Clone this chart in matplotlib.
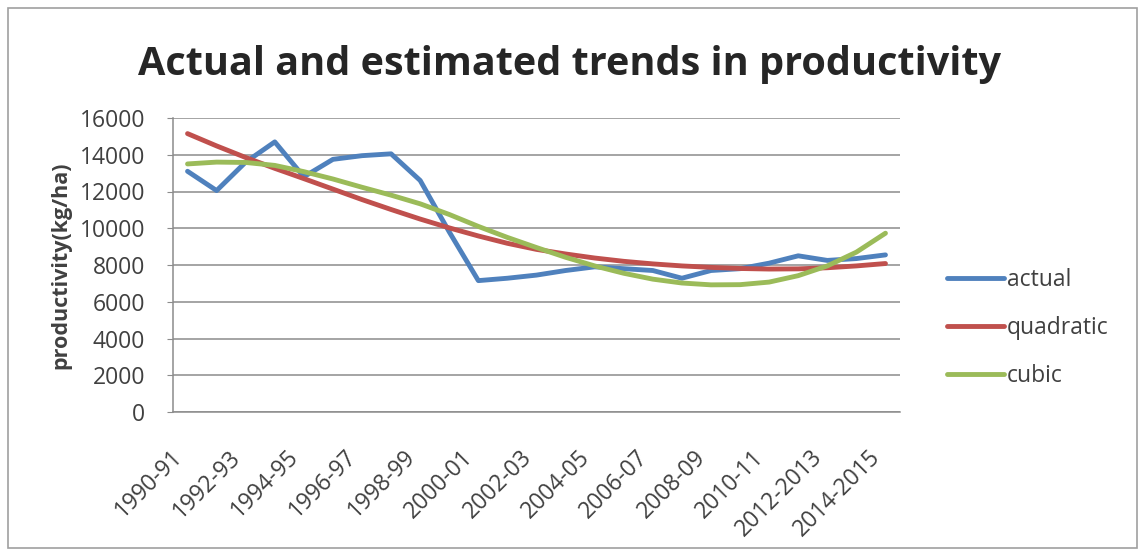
import matplotlib.pyplot as plt
from matplotlib.patches import Rectangle

# Productivity series (kg/ha), one value per crop year
years = [
    "1990-91", "1991-92", "1992-93", "1993-94", "1994-95", "1995-96",
    "1996-97", "1997-98", "1998-99", "1999-00", "2000-01", "2001-02",
    "2002-03", "2003-04", "2004-05", "2005-06", "2006-07", "2007-08",
    "2008-09", "2009-10", "2010-11", "2011-12", "2012-2013", "2013-2014",
    "2014-2015",
]
actual = [
    13100, 12050, 13600, 14700, 12800, 13750, 13950, 14050, 12600, 9800,
    7150, 7280, 7450, 7700, 7900, 7800, 7700, 7280, 7700, 7800,
    8100, 8500, 8250, 8350, 8550,
]
quadratic = [
    15150, 14480, 13850, 13260, 12700, 12130, 11560, 11020, 10500, 10020,
    9580, 9180, 8850, 8600, 8380, 8200, 8060, 7950, 7870, 7810,
    7780, 7790, 7850, 7950, 8080,
]
cubic = [
    13500, 13600, 13580, 13420, 13080, 12680, 12230, 11800, 11330, 10750,
    10100, 9500, 8950, 8420, 7950, 7550, 7230, 7020, 6920, 6930,
    7070, 7420, 7950, 8700, 9730,
]

FONT = "Open Sans"
TXT = "#404040"
GRID = "#8c8c8c"

fig = plt.figure(figsize=(11.42, 5.55), dpi=100)
ax = fig.add_axes([173 / 1142, 1 - 412 / 555, 727 / 1142, 294 / 555])

x = list(range(len(years)))
ax.plot(x, actual, color="#4F81BD", lw=3.5, label="actual", solid_capstyle="round")
ax.plot(x, quadratic, color="#C0504D", lw=3.5, label="quadratic", solid_capstyle="round")
ax.plot(x, cubic, color="#9BBB59", lw=3.5, label="cubic", solid_capstyle="round")

ax.set_xlim(-0.5, len(years) - 0.5)
ax.set_ylim(0, 16000)
ax.set_yticks(range(0, 16001, 2000))
ax.yaxis.grid(True, color=GRID, lw=1.1)
ax.set_axisbelow(True)

ax.set_xticks(x[::2])
ax.set_xticklabels(years[::2], rotation=45, ha="right", va="top",
                   fontsize=16.5, family=FONT, color=TXT)
ax.tick_params(axis="x", length=0, pad=24)
ax.tick_params(axis="y", length=4, color=GRID, pad=16, labelsize=16.5, labelcolor=TXT)
for lab in ax.get_yticklabels():
    lab.set_family(FONT)

for side in ("top", "right"):
    ax.spines[side].set_visible(False)
for side in ("left", "bottom"):
    ax.spines[side].set_color(GRID)
    ax.spines[side].set_linewidth(1.1)

ax.set_ylabel("productivity(kg/ha)", fontsize=15.5, fontweight="bold",
              family=FONT, color=TXT, labelpad=6)

fig.text(570 / 1142, 1 - 75 / 555, "Actual and estimated trends in productivity",
         ha="center", va="baseline", fontsize=28.5, fontweight="bold",
         family=FONT, color="#262626")

leg = ax.legend(loc="center left", bbox_to_anchor=(938 / 1142, 1 - 328 / 555),
                bbox_transform=fig.transFigure, frameon=False,
                prop={"family": FONT, "size": 16.5}, handlelength=2.5,
                handletextpad=0.1, labelspacing=1.05, borderaxespad=0)
for t in leg.get_texts():
    t.set_color(TXT)

# outer chart border
fig.patches.append(Rectangle((8 / 1142, 1 - 548 / 555), 1129 / 1142, 540 / 555,
                             transform=fig.transFigure, fill=False,
                             edgecolor="#a0a0a0", lw=1.2))

fig.savefig("out.png", dpi=100)
